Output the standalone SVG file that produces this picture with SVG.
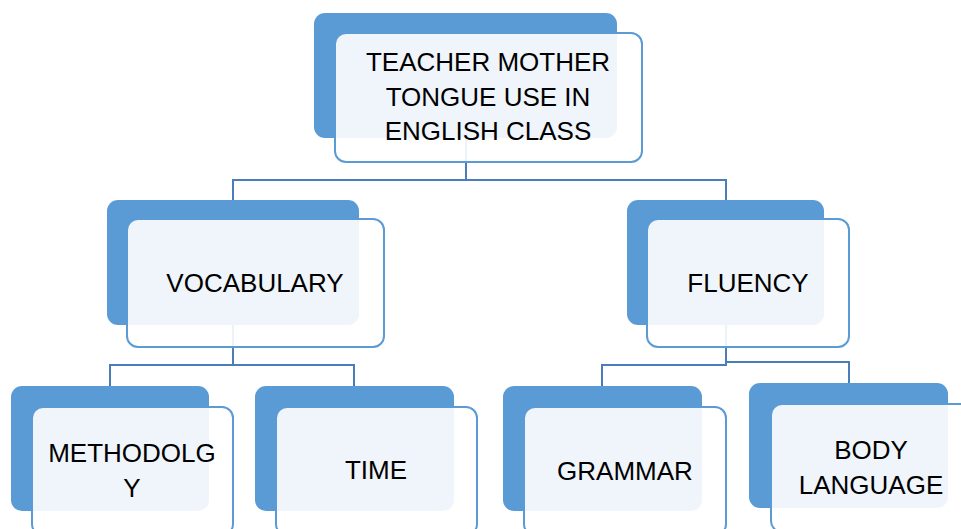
<svg xmlns="http://www.w3.org/2000/svg" width="961" height="529" viewBox="0 0 961 529">
<style>
.back{fill:#5B9BD5}
.front{fill:#FFFFFF;fill-opacity:0.9;stroke:#5B9BD5;stroke-width:2}
.conn{fill:none;stroke:#4A7EBB;stroke-width:2}
text{font-family:"Liberation Sans",Arial,sans-serif;font-size:26px;fill:#000;text-anchor:middle}
</style>
<rect width="961" height="529" fill="#FFFFFF"/>
<g id="connectors">
<path class="conn" d="M466,138 V180 H233 V200 M466,180 H726 V200"/>
<path class="conn" d="M233,325 V365 H110 V386 M233,365 H354 V386"/>
<path class="conn" d="M726,325 V365 H602 V386 M726,362 H849 V383"/>
</g>
<g id="node-root">
<rect class="back" x="314" y="13" width="303" height="125" rx="11"/>
<rect class="front" x="335" y="33" width="307" height="129" rx="11"/>
<text x="488" y="71">TEACHER MOTHER</text>
<text x="488" y="106">TONGUE USE IN</text>
<text x="488" y="140">ENGLISH CLASS</text>
</g>
<g id="node-vocabulary">
<rect class="back" x="107" y="200" width="252" height="125" rx="11"/>
<rect class="front" x="127" y="219" width="257" height="128" rx="11"/>
<text x="255" y="292">VOCABULARY</text>
</g>
<g id="node-fluency">
<rect class="back" x="627" y="200" width="197" height="125" rx="11"/>
<rect class="front" x="647" y="219" width="202" height="128" rx="11"/>
<text x="748" y="292">FLUENCY</text>
</g>
<g id="node-methodology">
<rect class="back" x="11" y="386" width="198" height="125" rx="11"/>
<rect class="front" x="32" y="407" width="201" height="128" rx="11"/>
<text x="132" y="462">METHODOLG</text>
<text x="132" y="497">Y</text>
</g>
<g id="node-time">
<rect class="back" x="255" y="386" width="199" height="125" rx="11"/>
<rect class="front" x="276" y="407" width="201" height="128" rx="11"/>
<text x="376" y="479">TIME</text>
</g>
<g id="node-grammar">
<rect class="back" x="503" y="386" width="199" height="125" rx="11"/>
<rect class="front" x="524" y="407" width="202" height="128" rx="11"/>
<text x="625" y="480">GRAMMAR</text>
</g>
<g id="node-body-language">
<rect class="back" x="749" y="383" width="199" height="125" rx="11"/>
<rect class="front" x="771" y="404" width="202" height="128" rx="11"/>
<text x="871" y="459">BODY</text>
<text x="871" y="494">LANGUAGE</text>
</g>
</svg>
